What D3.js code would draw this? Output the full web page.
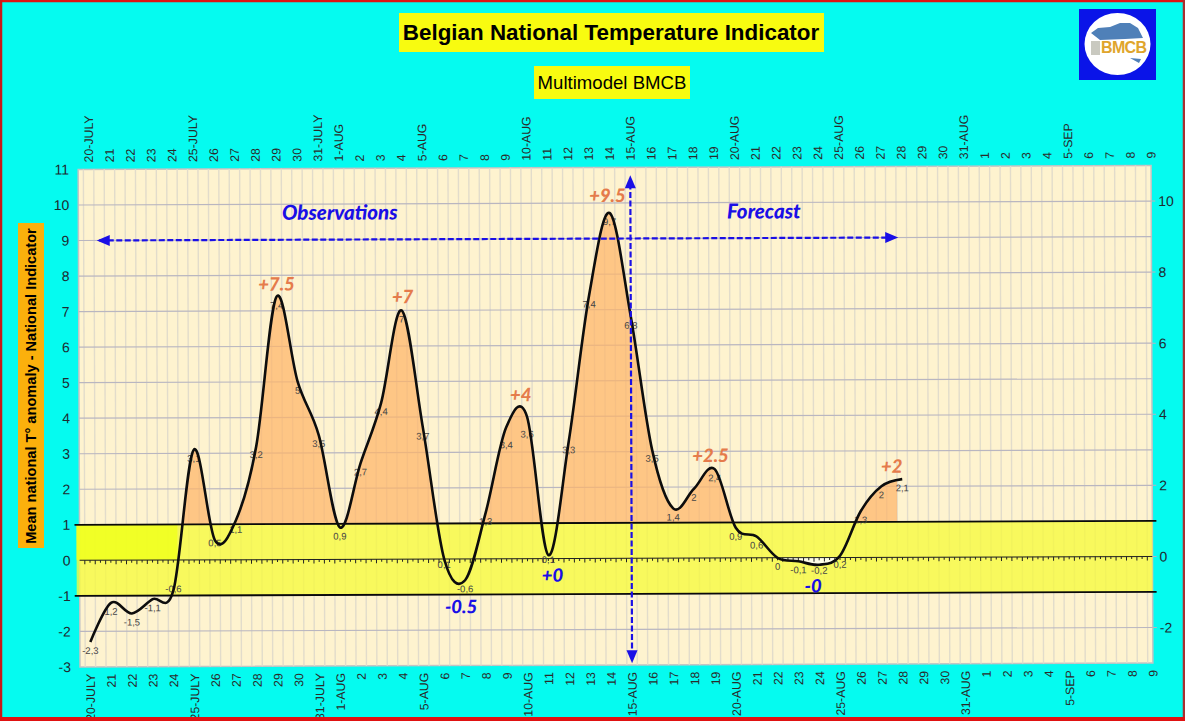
<!DOCTYPE html>
<html lang="en">
<head>
<meta charset="UTF-8">
<title>Belgian National Temperature Indicator</title>
<script src="https://d3js.org/d3.v7.min.js"></script>
<style>
  html, body { margin: 0; padding: 0; background: #05fbf0; overflow: hidden; }
  text { font-family: "Liberation Sans", sans-serif; }
  .callout { font-family: Lato, "Open Sans", sans-serif; font-weight: 900; font-style: italic; }
</style>
</head>
<body>
<div id="chart"></div>
<script>
// x categories, one per day, same on top and bottom
const dayLabels = ['20-JULY','21','22','23','24','25-JULY','26','27','28','29','30','31-JULY',
  '1-AUG','2','3','4','5-AUG','6','7','8','9','10-AUG','11','12','13','14','15-AUG','16','17','18','19',
  '20-AUG','21','22','23','24','25-AUG','26','27','28','29','30','31-AUG',
  '1','2','3','4','5-SEP','6','7','8','9'];

// daily indicator
const indicator = [-2.3,-1.2,-1.5,-1.1,-0.85,3.1,0.55,1.1,3.2,7.4,5,3.5,0.9,2.7,4.4,7,3.7,0,-0.6,1.3,3.7,4.0,0.1,3.3,7.4,9.72,6.8,3.05,1.4,1.95,2.5,0.85,0.6,0,-0.1,-0.2,0.05,1.3,2,2.2];
// small labels printed next to the points
const pointLabels = ['-2,3','1,2','-1,5','-1,1','-0,6','3,1','0,5','1,1','3,2','7,4','5','3,5','0,9','2,7','4,4','7','3,7','0,1','-0,6','1,3','3,4','3,6','0,1','3,3','7,4','9,7','6,8','3,5','1,4','2','2,4','0,9','0,6','0','-0,1','-0,2','0,2','1,3','2','2,1'];

const leftTicks = [11,10,9,8,7,6,5,4,3,2,1,0,-1,-2,-3];
const rightTicks = [10,8,6,4,2,0,-2];

// peak / trough callouts: text, day, level
const peakTexts = ['+7.5','+7','+4','+9.5','+2.5','+2'];
const peakDays = [9,15.05,20.7,24.9,29.8,38.5];
const peakLevels = [7.57,7.2,4.43,10.03,2.7,2.38];
const lowTexts = ['-0.5','+0','-0'];
const lowDays = [17.8,22.2,34.7];
const lowLevels = [-1.53,-0.65,-0.98];
const phaseTexts = ['Observations','Forecast'];
const phaseDays = [12.05,32.4];
const phaseLevels = [9.56,9.55];

const W = 1185, H = 721;
const svg = d3.select('#chart').append('svg').attr('width', W).attr('height', H).style('display', 'block');

const x = d3.scaleLinear().domain([0, 51]).range([89.5, 1152]);
const y = d3.scaleLinear().domain([11, -3]).range([167.5, 665]);
const xL = x(-0.5), xR = x(51);

// the source picture sits slightly skewed
const g = svg.append('g').attr('transform', 'rotate(-0.21 ' + x(25) + ' ' + y(4) + ')');

g.append('rect').attr('x', xL).attr('y', y(11)).attr('width', xR - xL).attr('height', y(-3) - y(11))
  .attr('fill', '#fef3cf').attr('stroke', '#c4c4c4').attr('stroke-width', 1.5);

// half day grid, sits between the day labels
g.selectAll('.vgrid').data(d3.range(-0.25, 51, 0.5)).enter().append('line')
  .attr('class', 'vgrid')
  .attr('x1', d => x(d)).attr('x2', d => x(d))
  .attr('y1', y(11)).attr('y2', y(-3))
  .attr('stroke', '#e2dccb').attr('stroke-width', 1.4);

g.selectAll('.hgrid').data(leftTicks.slice(1, -1)).enter().append('line')
  .attr('class', 'hgrid')
  .attr('x1', xL).attr('x2', xR)
  .attr('y1', d => y(d)).attr('y2', d => y(d))
  .attr('stroke', '#b9b6c0').attr('stroke-width', 1.2);

// normal band
g.append('rect').attr('x', xL - 3).attr('y', y(1)).attr('width', xR - xL + 3).attr('height', y(-1) - y(1))
  .attr('fill', '#f6fa3c').attr('fill-opacity', 0.78);
g.append('rect').attr('x', xL - 3).attr('y', y(1)).attr('width', x(4.2) - xL + 3).attr('height', y(0) - y(1))
  .attr('fill', '#f0ff20').attr('fill-opacity', 0.9);

const defs = svg.append('defs');
defs.append('clipPath').attr('id', 'aboveBand').append('rect')
  .attr('x', xL).attr('y', y(11)).attr('width', x(38.75) - xL).attr('height', y(1) - y(11));
defs.append('clipPath').attr('id', 'belowZero').append('rect')
  .attr('x', x(32.8)).attr('y', y(0)).attr('width', x(36.2) - x(32.8)).attr('height', y(-1) - y(0));

const curve = d3.curveCatmullRom.alpha(0);
const area = d3.area().x((d, i) => x(i)).y1(d => y(d)).curve(curve);

g.append('path').datum(indicator)
  .attr('d', area.y0(y(1)))
  .attr('clip-path', 'url(#aboveBand)')
  .attr('fill', '#fdb468').attr('fill-opacity', 0.72);

g.append('path').datum(indicator)
  .attr('d', area.y0(y(0)))
  .attr('clip-path', 'url(#belowZero)')
  .attr('fill', '#ffffff').attr('fill-opacity', 0.85);

// zero line with its small ticks
g.append('line').attr('x1', xL).attr('x2', xR).attr('y1', y(0)).attr('y2', y(0))
  .attr('stroke', '#222').attr('stroke-width', 1);
g.selectAll('.ztick').data(d3.range(-0.25, 51, 0.25)).enter().append('line')
  .attr('class', 'ztick')
  .attr('x1', d => x(d)).attr('x2', d => x(d))
  .attr('y1', y(0)).attr('y2', (d, i) => y(0) + (i % 2 ? 2.5 : 4))
  .attr('stroke', '#222').attr('stroke-width', 1);

// band limits
g.selectAll('.limit').data([1, -1]).enter().append('line')
  .attr('class', 'limit')
  .attr('x1', xL - 5).attr('x2', xR + 4)
  .attr('y1', d => y(d)).attr('y2', d => y(d))
  .attr('stroke', '#0a0a0a').attr('stroke-width', 1.8);

// point labels under the line, a few moved by hand
const labelNudge = {4: -10, 20: 9, 21: 9, 22: -4, 35: -3, 6: -6, 17: -3};
g.selectAll('.plabel').data(pointLabels).enter().append('text')
  .attr('class', 'plabel')
  .attr('x', (d, i) => x(i)).attr('y', (d, i) => y(indicator[i]) + 12 + (labelNudge[i] || 0))
  .attr('text-anchor', 'middle').attr('font-size', 9.5).attr('fill', '#444')
  .text(d => d);

const line = d3.line().x((d, i) => x(i)).y(d => y(d)).curve(curve);
g.append('path').datum(indicator).attr('d', line)
  .attr('fill', 'none').attr('stroke', '#0d0d0d').attr('stroke-width', 2.6);

// left and right axes
g.selectAll('.lt').data(leftTicks).enter().append('text')
  .attr('class', 'lt')
  .attr('x', 70).attr('y', d => y(d) + 5)
  .attr('text-anchor', 'end').attr('font-size', 14).attr('fill', '#1e2a30')
  .text(d => d);
g.selectAll('.rt').data(rightTicks).enter().append('text')
  .attr('class', 'rt')
  .attr('x', 1159).attr('y', d => y(d) + 5)
  .attr('font-size', 14).attr('fill', '#1e2a30')
  .text(d => d);
g.selectAll('.rtick').data(rightTicks).enter().append('line')
  .attr('class', 'rtick')
  .attr('x1', xR).attr('x2', xR + 4)
  .attr('y1', d => y(d)).attr('y2', d => y(d))
  .attr('stroke', '#b9b6c0').attr('stroke-width', 1);

// day labels, rotated
g.selectAll('.top').data(dayLabels).enter().append('text')
  .attr('class', 'top')
  .attr('transform', (d, i) => 'translate(' + (x(i) + 4.5) + ',' + (y(11) - 7) + ') rotate(-90)')
  .attr('font-size', 12.3).attr('fill', '#2a2a2a')
  .text(d => d);
g.selectAll('.bottom').data(dayLabels).enter().append('text')
  .attr('class', 'bottom')
  .attr('transform', (d, i) => 'translate(' + (x(i) + 4.5) + ',' + (y(-3) + 7) + ') rotate(-90)')
  .attr('text-anchor', 'end').attr('font-size', 12.3).attr('fill', '#2a2a2a')
  .text(d => d);

// observation / forecast arrows
const blue = '#1a0fe6';
function arrowHead(px, py, angle) {
  g.append('path').attr('d', 'M0,0L-13,-5.5L-13,5.5Z')
    .attr('transform', 'translate(' + px + ',' + py + ') rotate(' + angle + ')')
    .attr('fill', blue);
}
g.append('line').attr('x1', x(0.5)).attr('x2', x(38.7)).attr('y1', y(9)).attr('y2', y(9))
  .attr('stroke', blue).attr('stroke-width', 2.2).attr('stroke-dasharray', '6 2.5');
arrowHead(x(0.38), y(9), 180);
arrowHead(x(38.85), y(9), 0);
g.append('line').attr('x1', x(26)).attr('x2', x(26)).attr('y1', y(10.55)).attr('y2', y(-2.75))
  .attr('stroke', blue).attr('stroke-width', 2.2).attr('stroke-dasharray', '6 2.5');
arrowHead(x(26), y(10.78), -90);
arrowHead(x(26), y(-2.95), 90);

// callouts
g.selectAll('.peak').data(peakTexts).enter().append('text')
  .attr('class', 'callout peak')
  .attr('x', (d, i) => x(peakDays[i])).attr('y', (d, i) => y(peakLevels[i]))
  .attr('text-anchor', 'middle').attr('font-size', 18.5).attr('fill', '#e57b4b')
  .text(d => d);
g.selectAll('.low').data(lowTexts).enter().append('text')
  .attr('class', 'callout low')
  .attr('x', (d, i) => x(lowDays[i])).attr('y', (d, i) => y(lowLevels[i]))
  .attr('text-anchor', 'middle').attr('font-size', 18.5).attr('fill', blue)
  .text(d => d);
g.selectAll('.phase').data(phaseTexts).enter().append('text')
  .attr('class', 'callout phase')
  .attr('x', (d, i) => x(phaseDays[i])).attr('y', (d, i) => y(phaseLevels[i]))
  .attr('text-anchor', 'middle').attr('font-size', 20.5).attr('fill', blue)
  .text(d => d);

// titles
svg.append('rect').attr('x', 399).attr('y', 13).attr('width', 425).attr('height', 39).attr('fill', '#f8fb10');
svg.append('text').attr('x', 611).attr('y', 40).attr('text-anchor', 'middle')
  .attr('font-size', 22.4).attr('font-weight', 700).attr('fill', '#000')
  .text('Belgian National Temperature Indicator');
svg.append('rect').attr('x', 534).attr('y', 66).attr('width', 156).attr('height', 33).attr('fill', '#f8fb10');
svg.append('text').attr('x', 612).attr('y', 89).attr('text-anchor', 'middle')
  .attr('font-size', 18.6).attr('fill', '#000')
  .text('Multimodel BMCB');

// y axis title
svg.append('rect').attr('x', 18).attr('y', 223).attr('width', 26).attr('height', 325).attr('fill', '#fbb00c');
svg.append('text').attr('transform', 'translate(36,386) rotate(-90)').attr('text-anchor', 'middle')
  .attr('font-size', 14.6).attr('font-weight', 700).attr('fill', '#000')
  .text('Mean national T\u00b0 anomaly - National Indicator');

// logo
svg.append('rect').attr('x', 1079).attr('y', 9).attr('width', 77).attr('height', 71).attr('fill', '#0a14e8');
svg.append('ellipse').attr('cx', 1117.5).attr('cy', 44).attr('rx', 33).attr('ry', 31).attr('fill', '#fff');
svg.append('path').attr('d', 'M1091,33 L1098,28 L1110,27 L1120,23 L1130,23 L1138,28 L1143,38 L1125,39 L1100,40 Z M1130,58 L1141,59 L1139,63 Z')
  .attr('fill', '#4f80b8');
svg.append('rect').attr('x', 1091).attr('y', 41).attr('width', 9).attr('height', 14).attr('fill', '#c9c9c0');
svg.append('text').attr('x', 1124).attr('y', 53).attr('text-anchor', 'middle')
  .attr('font-size', 16).attr('font-weight', 700).attr('fill', '#e0a52c').attr('textLength', 46)
  .text('BMCB');

// frame
svg.append('line').attr('x1', 0).attr('x2', W).attr('y1', 1).attr('y2', 1).attr('stroke', '#e01212').attr('stroke-width', 2.5);
svg.append('line').attr('x1', 1).attr('x2', 1).attr('y1', 0).attr('y2', H).attr('stroke', '#c81818').attr('stroke-width', 2.5);
svg.append('line').attr('x1', W - 1).attr('x2', W - 1).attr('y1', 0).attr('y2', H).attr('stroke', '#a83030').attr('stroke-width', 2.5);
svg.append('line').attr('x1', 0).attr('x2', W).attr('y1', H - 2).attr('y2', H - 2).attr('stroke', '#e01212').attr('stroke-width', 4);
</script>
</body>
</html>
